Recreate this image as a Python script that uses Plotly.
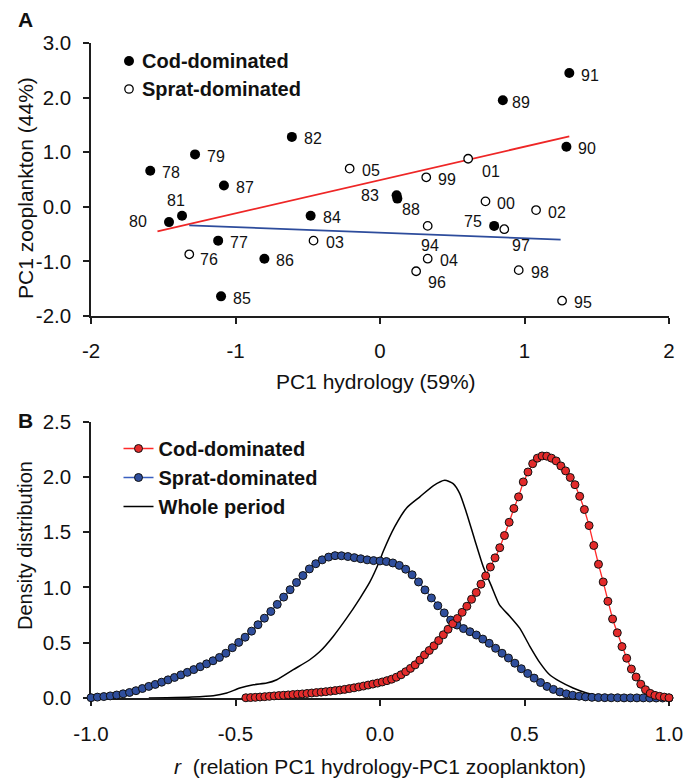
import numpy as np
import plotly.graph_objects as go

# ---------------- Panel A data ----------------
cod_years = ["78", "79", "82", "87", "81", "80", "84", "77", "86", "85", "91", "89", "90", "83", "88", "75"]
cod_x = [-1.59, -1.28, -0.61, -1.08, -1.37, -1.46, -0.48, -1.12, -0.80, -1.10, 1.31, 0.85, 1.29, 0.115, 0.12, 0.79]
cod_y = [0.66, 0.96, 1.28, 0.39, -0.165, -0.28, -0.165, -0.62, -0.95, -1.64, 2.45, 1.95, 1.10, 0.21, 0.15, -0.35]

sprat_years = ["76", "03", "05", "01", "99", "00", "02", "94", "97", "04", "96", "98", "95"]
sprat_x = [-1.32, -0.46, -0.21, 0.61, 0.32, 0.73, 1.08, 0.33, 0.86, 0.33, 0.25, 0.96, 1.26]
sprat_y = [-0.87, -0.62, 0.70, 0.88, 0.54, 0.10, -0.06, -0.35, -0.41, -0.95, -1.18, -1.16, -1.72]

cod_fit_x = [-1.54, 1.31]
cod_fit_y = [-0.45, 1.29]
sprat_fit_x = [-1.32, 1.25]
sprat_fit_y = [-0.34, -0.60]

a_xticks = [-2, -1, 0, 1, 2]
a_xticktext = ["-2", "-1", "0", "1", "2"]
a_yticks = [-2, -1, 0, 1, 2, 3]
a_yticktext = ["-2.0", "-1.0", "0.0", "1.0", "2.0", "3.0"]

# ---------------- Panel B data ----------------
dens_sprat = [
    0.003, 0.008, 0.013, 0.019, 0.027, 0.038, 0.050, 0.066, 0.086, 0.105,
    0.123, 0.143, 0.164, 0.186, 0.209, 0.232, 0.257, 0.283, 0.309, 0.337,
    0.367, 0.405, 0.455, 0.503, 0.550, 0.605, 0.663, 0.722, 0.783, 0.847,
    0.913, 0.980, 1.045, 1.108, 1.168, 1.215, 1.250, 1.275, 1.288, 1.287,
    1.280, 1.270, 1.260, 1.250, 1.243, 1.240, 1.235, 1.222, 1.200, 1.165,
    1.115, 1.050, 0.978, 0.905, 0.835, 0.770, 0.705, 0.660, 0.628, 0.600,
    0.570, 0.533, 0.495, 0.450, 0.405, 0.362, 0.315, 0.265, 0.222, 0.180,
    0.140, 0.105, 0.078, 0.055, 0.038, 0.025, 0.016, 0.010, 0.006, 0.004,
    0.003, 0.002, 0.002, 0.001, 0.001, 0.001, 0.001, 0.0, 0.0, 0.0, 0.0,
]
dens_cod = [
    0.002, 0.004, 0.006, 0.009, 0.012, 0.015, 0.019, 0.022, 0.025, 0.028,
    0.031, 0.034, 0.037, 0.041, 0.045, 0.049, 0.053, 0.057, 0.062, 0.067,
    0.072, 0.078, 0.085, 0.092, 0.100, 0.108, 0.117, 0.126, 0.135, 0.145,
    0.157, 0.170, 0.188, 0.210, 0.238, 0.268, 0.300, 0.343, 0.390, 0.430,
    0.472, 0.520, 0.572, 0.622, 0.672, 0.720, 0.775, 0.830, 0.893, 0.955,
    1.030, 1.105, 1.185, 1.268, 1.360, 1.470, 1.590, 1.715, 1.820, 1.955,
    2.045, 2.120, 2.170, 2.190, 2.188, 2.170, 2.145, 2.100, 2.055, 1.995,
    1.930, 1.825, 1.705, 1.560, 1.380, 1.210, 1.050, 0.875, 0.715, 0.590,
    0.465, 0.360, 0.262, 0.190, 0.125, 0.075, 0.042, 0.024, 0.015, 0.008,
    0.002,
]
r_sprat_start, r_sprat_end = -1.0, 1.0
r_cod_start, r_cod_end = -0.464, 1.0

whole_r = [-0.80, -0.738, -0.65, -0.577, -0.53, -0.485, -0.438, -0.392, -0.357, -0.30,
           -0.243, -0.208, -0.162, -0.116, -0.07, -0.035, -0.003, 0.011, 0.051, 0.092,
           0.138, 0.184, 0.224, 0.253, 0.276, 0.30, 0.328, 0.357, 0.386, 0.414,
           0.449, 0.484, 0.518, 0.553, 0.587, 0.622, 0.668, 0.715, 0.772, 0.85, 0.95]
whole_d = [0.0, 0.002, 0.008, 0.02, 0.045, 0.09, 0.12, 0.135, 0.165, 0.256,
           0.346, 0.42, 0.557, 0.72, 0.90, 1.05, 1.23, 1.325, 1.55, 1.72,
           1.82, 1.92, 1.97, 1.94, 1.85, 1.67, 1.43, 1.19, 1.01, 0.84,
           0.74, 0.63, 0.47, 0.32, 0.21, 0.15, 0.09, 0.045, 0.015, 0.002, 0.0]

b_xticks = [-1.0, -0.5, 0.0, 0.5, 1.0]
b_xticktext = ["-1.0", "-0.5", "0.0", "0.5", "1.0"]
b_yticks = [0.0, 0.5, 1.0, 1.5, 2.0, 2.5]
b_yticktext = ["0.0", "0.5", "1.0", "1.5", "2.0", "2.5"]

# ---------------- styling ----------------
FONT = "Liberation Sans, Arial, sans-serif"
AXC = "#1e1e1e"
RED_FILL = "#e32b2b"
RED_LINE = "#ff2a2a"
BLUE_FILL = "#2f4e9c"
BLUE_LINE = "#3a5fc0"
FIT_RED = "#ee2626"
FIT_BLUE = "#2d4c9c"

# label offsets in screen pixels (dx right, dy down); default right of point
DEFAULT_OFF = (21, 2)
LABEL_OFF = {"80": (-31, -1), "81": (-6, -15), "01": (23, 13), "83": (-27, 0),
             "88": (14, 11), "94": (2, 20), "75": (-21, -4), "97": (17, 16),
             "96": (21, 11), "76": (20, 5), "89": (18, 2)}

fig = go.Figure()

# Panel A
fig.add_trace(go.Scatter(x=cod_fit_x, y=cod_fit_y, mode="lines", xaxis="x", yaxis="y",
                         line=dict(color=FIT_RED, width=1.8), showlegend=False, hoverinfo="skip"))
fig.add_trace(go.Scatter(x=sprat_fit_x, y=sprat_fit_y, mode="lines", xaxis="x", yaxis="y",
                         line=dict(color=FIT_BLUE, width=1.8), showlegend=False, hoverinfo="skip"))
fig.add_trace(go.Scatter(x=cod_x, y=cod_y, mode="markers", xaxis="x", yaxis="y",
                         marker=dict(size=10, color="black", line=dict(width=0)),
                         name="Cod-dominated", showlegend=False, text=cod_years))
fig.add_trace(go.Scatter(x=sprat_x, y=sprat_y, mode="markers", xaxis="x", yaxis="y",
                         marker=dict(size=8.5, color="white", line=dict(width=1.3, color="black")),
                         name="Sprat-dominated", showlegend=False, text=sprat_years))

# Panel B
r_sprat = np.linspace(r_sprat_start, r_sprat_end, len(dens_sprat))
r_cod = np.linspace(r_cod_start, r_cod_end, len(dens_cod))
fig.add_trace(go.Scatter(x=whole_r, y=whole_d, mode="lines", xaxis="x2", yaxis="y2",
                         line=dict(color="black", width=1.5, shape="spline", smoothing=0.6),
                         name="Whole period", legendrank=3, cliponaxis=False))
fig.add_trace(go.Scatter(x=r_sprat, y=dens_sprat, mode="lines+markers", xaxis="x2", yaxis="y2",
                         line=dict(color=BLUE_LINE, width=1.3),
                         marker=dict(size=8, color=BLUE_FILL, line=dict(width=1, color="#111")),
                         name="Sprat-dominated", legendrank=2, cliponaxis=False))
fig.add_trace(go.Scatter(x=r_cod, y=dens_cod, mode="lines+markers", xaxis="x2", yaxis="y2",
                         line=dict(color=RED_LINE, width=1.3),
                         marker=dict(size=8, color=RED_FILL, line=dict(width=1, color="#111")),
                         name="Cod-dominated", legendrank=1, cliponaxis=False))

def paper_y(py):
    return (698 - py) / 655.0

def paper_x(px):
    return (px - 91) / 578.0

annotations = []
for yrs, xs, ys in ((cod_years, cod_x, cod_y), (sprat_years, sprat_x, sprat_y)):
    for yr, xv, yv in zip(yrs, xs, ys):
        dx, dy = LABEL_OFF.get(yr, DEFAULT_OFF)
        annotations.append(dict(x=xv, y=yv, xref="x", yref="y", text=yr, showarrow=False,
                                xanchor="center", yanchor="middle",
                                xshift=dx, yshift=-dy, font=dict(size=16, color="#111", family=FONT)))

def paper_note(px, py, text, size, angle=0, xanchor="center"):
    return dict(x=paper_x(px), y=paper_y(py), xref="paper", yref="paper", text=text,
                showarrow=False, textangle=angle, xanchor=xanchor, yanchor="middle",
                font=dict(size=size, family=FONT, color="#111"))

# axis titles and panel letters
annotations += [
    paper_note(376, 381, "PC1 hydrology (59%)", 21),
    paper_note(25, 188, "PC1 zooplankton (44%)", 21, angle=-90),
    paper_note(380, 767, "<i>r</i>&nbsp; (relation PC1 hydrology-PC1 zooplankton)", 21),
    paper_note(25, 546, "Density distribution", 20, angle=-90),
    paper_note(25, 20, "<b>A</b>", 21),
    paper_note(25, 420, "<b>B</b>", 21),
    # panel A legend labels
    paper_note(140, 61, "<b>Cod-dominated</b>", 20, xanchor="left"),
    paper_note(140, 89, "<b>Sprat-dominated</b>", 20, xanchor="left"),
]

shapes = [
    dict(type="circle", xref="paper", yref="paper", xsizemode="pixel", ysizemode="pixel",
         xanchor=paper_x(129), yanchor=paper_y(61), x0=-5, x1=5, y0=-5, y1=5,
         fillcolor="black", line=dict(width=0)),
    dict(type="circle", xref="paper", yref="paper", xsizemode="pixel", ysizemode="pixel",
         xanchor=paper_x(129), yanchor=paper_y(89), x0=-4.2, x1=4.2, y0=-4.2, y1=4.2,
         fillcolor="white", line=dict(width=1.3, color="black")),
]

axis_common = dict(showline=True, linecolor=AXC, linewidth=1.5, ticks="outside", ticklen=6,
                   tickwidth=1.5, tickcolor=AXC, showgrid=False, zeroline=False,
                   tickfont=dict(size=20.5, family=FONT, color="#111"), tickmode="array")

fig.update_layout(
    width=698, height=780,
    margin=dict(l=91, r=29, t=43, b=82),
    paper_bgcolor="white", plot_bgcolor="white",
    font=dict(family=FONT, color="#111"),
    xaxis=dict(axis_common, domain=[0, 1], anchor="y", range=[-2, 2],
               tickvals=a_xticks, ticktext=a_xticktext, ticklabelstandoff=10),
    yaxis=dict(axis_common, domain=[paper_y(316), 1.0], anchor="x", range=[-2, 3],
               tickvals=a_yticks, ticktext=a_yticktext, ticklabelstandoff=8),
    xaxis2=dict(axis_common, domain=[0, 1], anchor="y2", range=[-1, 1], layer="below traces",
                tickvals=b_xticks, ticktext=b_xticktext, ticklabelstandoff=11),
    yaxis2=dict(axis_common, domain=[0, paper_y(421.7)], anchor="x2", range=[0, 2.5],
                layer="below traces",
                tickvals=b_yticks, ticktext=b_yticktext, ticklabelstandoff=8),
    showlegend=True,
    legend=dict(x=paper_x(118.5), y=paper_y(429), xanchor="left", yanchor="top",
                bgcolor="rgba(0,0,0,0)", borderwidth=0, itemwidth=30, tracegroupgap=0,
                font=dict(size=20, family=FONT, color="#111", weight="bold"),
                traceorder="normal"),
    annotations=annotations,
    shapes=shapes,
)

fig.write_html("out.html")
